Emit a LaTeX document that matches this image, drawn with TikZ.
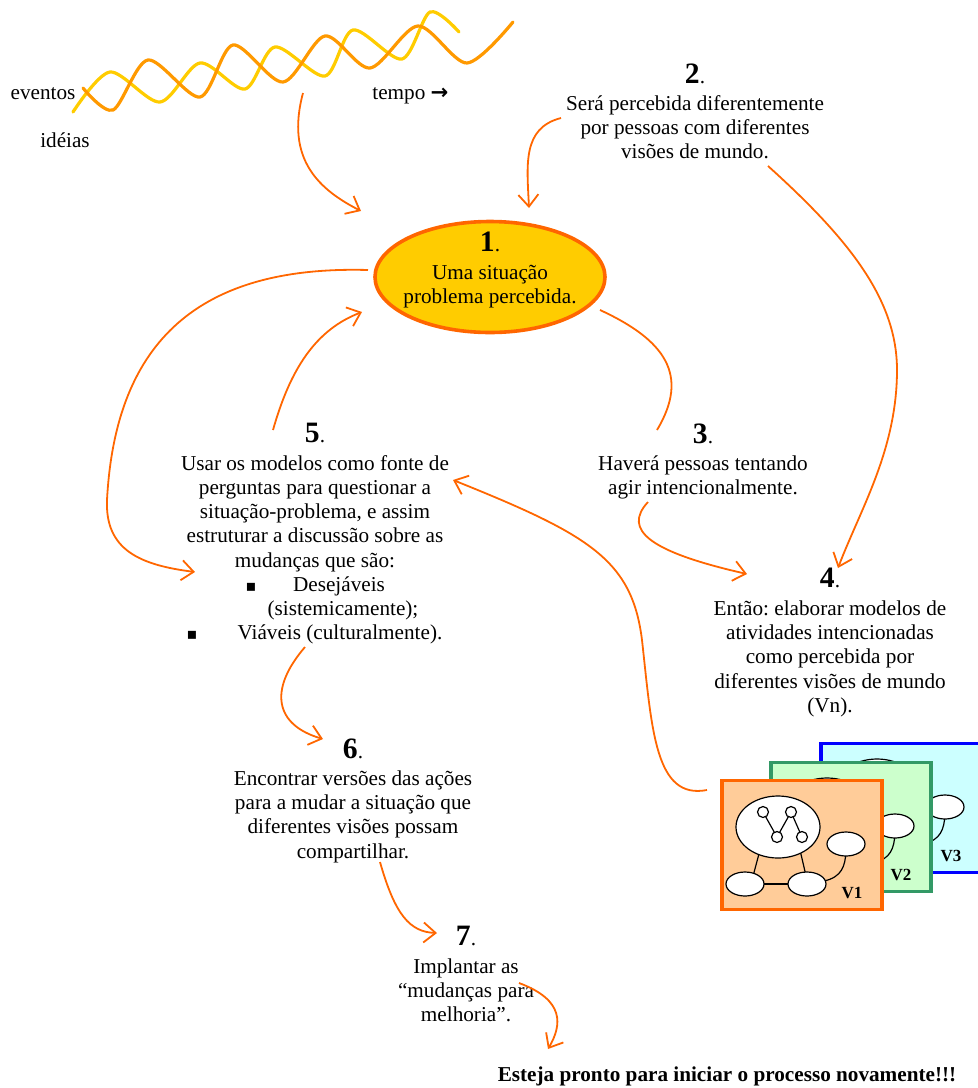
\documentclass[tikz,border=0pt]{standalone}
\usepackage{fontspec}
\setmainfont{Liberation Serif}
\newfontfamily\simbolo{DejaVu Sans}
\usetikzlibrary{arrows.meta,shapes.geometric}
\definecolor{laranja}{HTML}{FF6600}
\definecolor{ouro}{HTML}{FFCC00}
\definecolor{onda}{HTML}{FF9900}
\definecolor{pessego}{HTML}{FFCC99}
\definecolor{verdeclaro}{HTML}{CCFFCC}
\definecolor{verde}{HTML}{339966}
\definecolor{cianoclaro}{HTML}{CCFFFF}
\definecolor{azul}{HTML}{0000FF}
\newcommand{\passo}[1]{{\fontsize{14.8}{15}\selectfont\bfseries #1}.}
\frenchspacing

\begin{document}
\begin{tikzpicture}[x=0.5pt, y=-0.5pt,
  txt/.style={align=center, inner sep=0pt, font=\fontsize{10.6}{12.15}\selectfont},
  seta/.style={draw=laranja, line width=0.9pt, -{Straight Barb[length=6pt,width=10pt]}},
  liga/.style={draw=laranja, line width=0.9pt},
  quadro/.style={rectangle, line width=1.75pt, minimum width=80pt, minimum height=64.5pt, inner sep=0pt},
  traco/.style={line width=0.6pt},
  rotulo/.style={font=\fontsize{8.5}{10}\selectfont\bfseries, inner sep=0pt}]
\useasboundingbox (0,0) rectangle (978,1088);

% ondas do tempo
\draw[ouro, line width=1.6pt, line cap=round] plot[smooth] coordinates {(73,112) (110,72) (160,102) (200,63) (245,89) (275,47) (325,76) (353,30) (402,59) (430,12) (459,32)};
\draw[onda, line width=1.6pt, line cap=round] plot[smooth] coordinates {(83,88) (113,110) (148,60) (200,97) (233,45) (283,82) (325,36) (370,68) (418,26) (467,63) (513,22)};
\node[txt, anchor=base] (eventos) at (43,99) {eventos};
\node[txt, anchor=base] (ideias) at (65,147) {idéias};
\node[txt, anchor=base west] (tempo) at (372,99) {tempo {\simbolo\bfseries →}};

\node[ellipse, draw=laranja, fill=ouro, line width=1.8pt, minimum width=115pt, minimum height=55.5pt, inner sep=0pt] (sit) at (490,277) {};
\node[txt, anchor=north] (t1) at (490,232) {\passo{1}\\[1.5pt] Uma situação\\ problema percebida.};
\node[txt, anchor=north] (t2) at (695,63) {\passo{2}\\[1.5pt] Será percebida diferentemente\\ por pessoas com diferentes\\ visões de mundo.};
\node[txt, anchor=north] (t3) at (703,423) {\passo{3}\\[1.5pt] Haverá pessoas tentando\\ agir intencionalmente.};
\node[txt, anchor=north] (t4) at (830,568) {\passo{4}\\[1.5pt] Então: elaborar modelos de\\ atividades intencionadas\\ como percebida por\\ diferentes visões de mundo\\ (Vn).};
\node[txt, anchor=north] (t5) at (315,423) {\passo{5}\\[1.5pt] Usar os modelos como fonte de\\ perguntas para questionar a\\ situação-problema, e assim\\ estruturar a discussão sobre as\\ mudanças que são:};
\node[txt, anchor=base] (bala1) at (251,591) {\simbolo\fontsize{8}{9}\selectfont ▪};
\node[txt, anchor=base] (desej) at (339,591) {Desejáveis};
\node[txt, anchor=base] (sistem) at (343,615) {(sistemicamente);};
\node[txt, anchor=base] (bala2) at (192,639) {\simbolo\fontsize{8}{9}\selectfont ▪};
\node[txt, anchor=base] (viav) at (340,639) {Viáveis (culturalmente).};
\node[txt, anchor=north] (t6) at (353,738) {\passo{6}\\[1.5pt] Encontrar versões das ações\\ para a mudar a situação que\\ diferentes visões possam\\ compartilhar.};
\node[txt, anchor=north] (t7) at (466,926) {\passo{7}\\[1.5pt] Implantar as\\ “mudanças para\\ melhoria”.};
\node[txt, anchor=base, font=\fontsize{10.6}{12.15}\selectfont\bfseries] (final) at (727,1081) {Esteja pronto para iniciar o processo novamente!!!};

% visoes V3, V2, V1
\foreach \dx/\dy/\fundo/\borda/\nome in {99/-37/cianoclaro/azul/V3, 49/-18/verdeclaro/verde/V2, 0/0/pessego/laranja/V1}{
\begin{scope}[shift={(\dx,\dy)}]
\node[quadro, draw=\borda, fill=\fundo] (quadro\nome) at (802,845) {};
\draw[traco] (760,850)--(752,880);
\draw[traco] (800,850)--(807,880);
\draw[traco] (745,884)--(807,884);
\draw[traco] (824,881) .. controls (842,877) and (845,866) .. (846,852);
\draw[traco, fill=white] (778,827) ellipse [x radius=42, y radius=31];
\draw[traco] (763,812)--(777,837)--(791,812)--(802,837);
\foreach \cx/\cy in {763/812, 791/812, 777/837, 802/837}
  \draw[traco, fill=white] (\cx,\cy) circle [radius=5.5];
\foreach \cx/\cy in {745/884, 807/884, 846/844}
  \draw[traco, fill=white] (\cx,\cy) ellipse [x radius=19, y radius=12];
\node[rotulo] (rotulo\nome) at (852,893) {\nome};
\end{scope}
}

% ligacoes
\coordinate (c1a) at (303,93);
\coordinate (c1b) at (361,211);
\draw[seta] (c1a) .. controls (285,160) and (320,190) .. (c1b);
\coordinate (c2a) at (561,118);
\coordinate (c2b) at (529,208);
\draw[seta] (c2a) .. controls (522,128) and (527,165) .. (c2b);
\coordinate (c3a) at (768,166);
\coordinate (c3m) at (897,370);
\coordinate (c3b) at (838,568);
\draw[seta] (c3a) .. controls (850,240) and (897,300) .. (c3m) .. controls (897,450) and (860,510) .. (c3b);
\coordinate (c4a) at (600,310);
\coordinate (c4b) at (657,430);
\draw[liga] (c4a) .. controls (665,340) and (690,375) .. (c4b);
\coordinate (c5a) at (648,502);
\coordinate (c5b) at (747,574);
\draw[seta] (c5a) .. controls (622,530) and (650,552) .. (c5b);
\coordinate (c6a) at (368,270);
\coordinate (c6m) at (107,500);
\coordinate (c6b) at (195,572);
\draw[seta] (c6a) .. controls (190,265) and (115,350) .. (c6m) .. controls (105,550) and (140,565) .. (c6b);
\coordinate (c7a) at (273,430);
\coordinate (c7b) at (362,312);
\draw[seta] (c7a) .. controls (290,370) and (315,330) .. (c7b);
\coordinate (c8a) at (707,790);
\coordinate (c8m) at (642,640);
\coordinate (c8b) at (453,480);
\draw[seta] (c8a) .. controls (655,800) and (652,730) .. (c8m) .. controls (632,560) and (590,535) .. (c8b);
\coordinate (c9a) at (305,647);
\coordinate (c9b) at (323,739);
\draw[seta] (c9a) .. controls (268,690) and (275,725) .. (c9b);
\coordinate (c10a) at (380,862);
\coordinate (c10b) at (437,933);
\draw[seta] (c10a) .. controls (395,915) and (410,932) .. (c10b);
\coordinate (c11a) at (519,983);
\coordinate (c11b) at (548,1049);
\draw[seta] (c11a) .. controls (565,1000) and (562,1025) .. (c11b);

\end{tikzpicture}
\end{document}
